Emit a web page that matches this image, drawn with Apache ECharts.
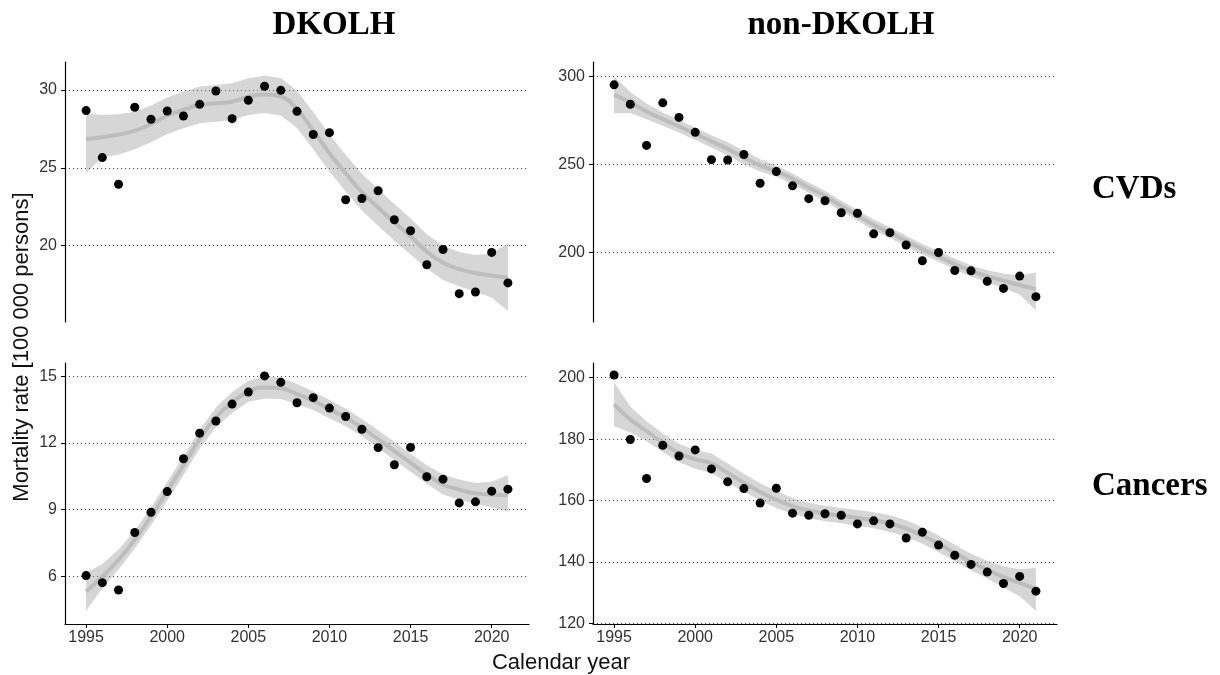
<!DOCTYPE html>
<html>
<head>
    <meta charset="utf-8"/>
    <script src="https://cdn.jsdelivr.net/npm/echarts@6/dist/echarts.min.js"></script>
</head>
<body style="margin:0;background:#fff">
<div id="main" style="width:1220px;height:675px;"></div>
<script type="text/javascript">
    var years = [1995, 1996, 1997, 1998, 1999, 2000, 2001, 2002, 2003, 2004, 2005, 2006, 2007, 2008,
        2009, 2010, 2011, 2012, 2013, 2014, 2015, 2016, 2017, 2018, 2019, 2020, 2021];
    var xTicks = [1995, 2000, 2005, 2010, 2015, 2020];

    // DKOLH - CVDs
    var cvdDkPts = [28.68, 25.66, 23.95, 28.89, 28.12, 28.65, 28.33, 29.08, 29.94, 28.16, 29.34, 30.24, 29.98, 28.63,
        27.14, 27.26, 22.95, 23.03, 23.53, 21.67, 20.96, 18.78, 19.76, 16.92, 17.03, 19.57, 17.61];
    var cvdDkFit = [26.86, 26.97, 27.14, 27.39, 27.82, 28.35, 28.72, 29.04, 29.15, 29.25, 29.57, 29.72, 29.57, 28.76,
        27.39, 25.94, 24.66, 23.44, 22.46, 21.50, 20.60, 19.63, 18.90, 18.50, 18.25, 18.08, 17.95];
    var cvdDkHi = [28.50, 28.40, 28.45, 28.60, 29.00, 29.52, 29.90, 30.22, 30.33, 30.43, 30.75, 30.92, 30.77, 29.96,
        28.59, 27.12, 25.84, 24.62, 23.64, 22.68, 21.77, 20.73, 20.00, 19.60, 19.40, 19.48, 20.17];
    var cvdDkLo = [24.66, 25.70, 25.85, 26.20, 26.64, 27.18, 27.54, 27.86, 27.97, 28.07, 28.39, 28.52, 28.37, 27.56,
        26.19, 24.76, 23.48, 22.26, 21.28, 20.32, 19.43, 18.53, 17.80, 17.40, 17.05, 16.68, 15.80];
    var cvdDkTicks = [20, 25, 30];

    // non-DKOLH - CVDs
    var cvdNonPts = [295.3, 284.3, 260.9, 285.1, 276.8, 268.3, 252.8, 252.6, 255.7, 239.4, 246.0, 237.9, 230.6, 229.4,
        222.6, 222.3, 210.6, 211.3, 204.3, 195.3, 200.0, 189.8, 189.6, 183.6, 179.6, 186.6, 174.9];
    var cvdNonFit = [289.6, 285.3, 280.2, 275.8, 271.7, 267.5, 263.2, 258.9, 254.0, 249.5, 246.2, 241.9, 236.8, 232.1,
        226.4, 221.1, 215.7, 211.3, 206.6, 201.9, 197.7, 193.4, 189.6, 186.4, 184.0, 181.5, 179.2];
    var cvdNonHi = [300.1, 291.3, 284.7, 279.6, 275.2, 271.0, 266.7, 262.7, 257.8, 253.0, 249.4, 244.9, 239.8, 235.1,
        229.4, 224.1, 218.7, 214.3, 209.6, 204.9, 200.7, 196.4, 192.8, 189.9, 188.0, 187.0, 188.7];
    var cvdNonLo = [279.1, 279.3, 275.7, 272.0, 268.2, 264.0, 259.7, 255.1, 250.2, 246.0, 243.0, 238.9, 233.8, 229.1,
        223.4, 218.1, 212.7, 208.3, 203.6, 198.9, 194.7, 190.4, 186.4, 182.9, 180.0, 176.0, 167.0];
    var cvdNonTicks = [200, 250, 300];

    // DKOLH - Cancers
    var canDkPts = [6.03, 5.71, 5.38, 7.97, 8.88, 9.81, 11.29, 12.44, 12.99, 13.75, 14.29, 15.02, 14.73, 13.81,
        14.04, 13.57, 13.19, 12.62, 11.79, 11.02, 11.80, 10.48, 10.37, 9.30, 9.35, 9.83, 9.92];
    var canDkFit = [5.31, 5.98, 6.74, 7.64, 8.70, 9.83, 10.99, 12.17, 13.15, 13.82, 14.31, 14.50, 14.46, 14.20,
        13.90, 13.52, 13.15, 12.69, 12.17, 11.64, 11.11, 10.58, 10.13, 9.90, 9.73, 9.68, 9.65];
    var canDkHi = [6.15, 6.55, 7.20, 8.05, 9.10, 10.25, 11.40, 12.60, 13.60, 14.30, 14.80, 15.00, 14.95, 14.65,
        14.32, 13.93, 13.55, 13.08, 12.57, 12.05, 11.52, 11.00, 10.58, 10.35, 10.20, 10.25, 10.55];
    var canDkLo = [4.45, 5.45, 6.30, 7.25, 8.30, 9.40, 10.55, 11.75, 12.70, 13.35, 13.85, 14.00, 13.98, 13.75,
        13.48, 13.11, 12.75, 12.30, 11.77, 11.23, 10.70, 10.16, 9.68, 9.45, 9.26, 9.10, 8.90];
    var canDkTicks = [6, 9, 12, 15];

    // non-DKOLH - Cancers
    var canNonPts = [200.9, 179.9, 167.2, 178.0, 174.5, 176.5, 170.3, 166.1, 163.9, 159.2, 164.0, 155.9, 155.2, 155.7,
        155.2, 152.4, 153.4, 152.4, 147.8, 149.7, 145.5, 142.2, 139.2, 136.7, 133.0, 135.3, 130.5];
    var canNonFit = [191.3, 186.4, 182.6, 178.8, 175.5, 173.4, 172.1, 169.0, 165.8, 162.8, 160.3, 158.2, 156.8, 155.8,
        155.1, 154.3, 153.6, 152.5, 150.9, 148.6, 145.9, 142.9, 140.0, 137.5, 135.1, 133.2, 131.2];
    var canNonHi = [198.5, 190.6, 185.8, 181.8, 178.5, 176.4, 175.3, 172.1, 168.7, 165.6, 163.0, 160.8, 159.3, 158.3,
        157.6, 156.9, 156.2, 155.2, 153.6, 151.3, 148.6, 145.6, 142.7, 140.4, 138.5, 137.6, 138.0];
    var canNonLo = [184.2, 182.2, 179.3, 175.8, 172.5, 170.4, 168.9, 165.9, 162.9, 160.0, 157.6, 155.6, 154.3, 153.3,
        152.6, 151.7, 151.0, 149.8, 148.2, 145.9, 143.2, 140.2, 137.3, 134.6, 131.7, 128.8, 124.0];
    var canNonTicks = [120, 140, 160, 180, 200];

    var panels = [
        {pts: cvdDkPts, fit: cvdDkFit, hi: cvdDkHi, lo: cvdDkLo, ticks: cvdDkTicks, min: 15.1, max: 31.8,
            grid: {left: 65, top: 62, width: 464, height: 260}, bottom: false},
        {pts: cvdNonPts, fit: cvdNonFit, hi: cvdNonHi, lo: cvdNonLo, ticks: cvdNonTicks, min: 160.5, max: 308.3,
            grid: {left: 593, top: 62, width: 464, height: 260}, bottom: false},
        {pts: canDkPts, fit: canDkFit, hi: canDkHi, lo: canDkLo, ticks: canDkTicks, min: 3.85, max: 15.6,
            grid: {left: 65, top: 363, width: 464, height: 261}, bottom: true},
        {pts: canNonPts, fit: canNonFit, hi: canNonHi, lo: canNonLo, ticks: canNonTicks, min: 119.8, max: 204.8,
            grid: {left: 593, top: 363, width: 464, height: 261}, bottom: true}
    ];

    var labelFont = {fontFamily: 'Liberation Sans', fontSize: 16, color: '#333'};
    var plain = function (v) { return String(v); };

    var option = {
        animation: false,
        backgroundColor: '#fff',
        grid: [],
        xAxis: [],
        yAxis: [],
        series: [],
        graphic: []
    };

    panels.forEach(function (p, i) {
        var g = p.grid;
        g.outerBoundsMode = 'none';
        option.grid.push(g);
        option.xAxis.push({
            type: 'value', gridIndex: i, min: 1993.7, max: 2022.3, show: p.bottom,
            axisLine: {show: true, onZero: false, lineStyle: {color: '#000', width: 1.2}},
            axisTick: {show: true, length: 4, customValues: xTicks, lineStyle: {color: '#000', width: 1}},
            axisLabel: Object.assign({customValues: xTicks, margin: 6, formatter: plain}, labelFont),
            splitLine: {show: false}
        });
        option.yAxis.push({
            type: 'value', gridIndex: i, min: p.min, max: p.max,
            axisLine: {show: true, onZero: false, lineStyle: {color: '#000', width: 1.2}},
            axisTick: {show: true, length: 4, customValues: p.ticks, lineStyle: {color: '#000', width: 1}},
            axisLabel: Object.assign({customValues: p.ticks, margin: 8, formatter: plain}, labelFont),
            splitLine: {show: true, lineStyle: {color: '#444', width: 1, type: [1, 3]}}
        });

        // confidence band
        option.series.push({
            type: 'custom', xAxisIndex: i, yAxisIndex: i, silent: true, z: 1,
            data: [[years[0], p.lo[0], p.hi[0]]],
            renderItem: function (params, api) {
                var pts = [];
                for (var k = 0; k < years.length; k++) pts.push(api.coord([years[k], p.hi[k]]));
                for (var k2 = years.length - 1; k2 >= 0; k2--) pts.push(api.coord([years[k2], p.lo[k2]]));
                return {
                    type: 'polygon',
                    shape: {points: pts},
                    style: {fill: 'rgba(153,153,153,0.4)'}
                };
            }
        });
        // smooth fit
        option.series.push({
            type: 'line', xAxisIndex: i, yAxisIndex: i, smooth: true, showSymbol: false, silent: true, z: 2,
            data: years.map(function (y, k) { return [y, p.fit[k]]; }),
            lineStyle: {color: '#bdbdbd', width: 4}
        });
        // observed points
        option.series.push({
            type: 'scatter', xAxisIndex: i, yAxisIndex: i, symbolSize: 9, z: 3,
            data: years.map(function (y, k) { return [y, p.pts[k]]; }),
            itemStyle: {color: '#000', opacity: 1}
        });
    });

    var serif = '"Liberation Serif", "Times New Roman", serif';
    option.graphic = [
        {type: 'text', x: 334, y: 25, style: {text: 'DKOLH', align: 'center', verticalAlign: 'middle',
                fontFamily: serif, fontWeight: 'bold', fontSize: 33, fill: '#000'}},
        {type: 'text', x: 841, y: 25, style: {text: 'non-DKOLH', align: 'center', verticalAlign: 'middle',
                fontFamily: serif, fontWeight: 'bold', fontSize: 33, fill: '#000'}},
        {type: 'text', x: 1092, y: 189, style: {text: 'CVDs', align: 'left', verticalAlign: 'middle',
                fontFamily: serif, fontWeight: 'bold', fontSize: 33, fill: '#000'}},
        {type: 'text', x: 1092, y: 486, style: {text: 'Cancers', align: 'left', verticalAlign: 'middle',
                fontFamily: serif, fontWeight: 'bold', fontSize: 33, fill: '#000'}},
        {type: 'text', x: 22, y: 347, rotation: Math.PI / 2, style: {text: 'Mortality rate [100 000 persons]',
                align: 'center', verticalAlign: 'middle', fontFamily: 'Liberation Sans', fontSize: 22, fill: '#111'}},
        {type: 'text', x: 561, y: 663, style: {text: 'Calendar year', align: 'center', verticalAlign: 'middle',
                fontFamily: 'Liberation Sans', fontSize: 22, fill: '#111'}}
    ];

    var myChart = echarts.init(document.getElementById('main'));
    myChart.setOption(option);
</script>
</body>
</html>
